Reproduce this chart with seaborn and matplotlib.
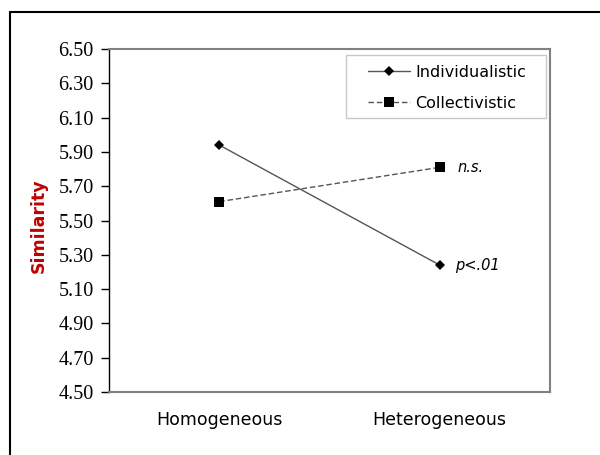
import matplotlib
matplotlib.use("Agg")
import matplotlib.pyplot as plt
from matplotlib.lines import Line2D
from matplotlib.patches import Rectangle
import seaborn as sns
import pandas as pd

# ---- data ----
conditions = ["Homogeneous", "Heterogeneous"]
individualistic = [5.94, 5.24]
collectivistic = [5.61, 5.81]
series_names = ["Individualistic", "Collectivistic"]
y_ticks = [4.50, 4.70, 4.90, 5.10, 5.30, 5.50, 5.70, 5.90, 6.10, 6.30, 6.50]
notes = ["p<.01", "n.s."]

df = pd.DataFrame({
    "condition": conditions * 2,
    "similarity": individualistic + collectivistic,
    "culture": [series_names[0]] * 2 + [series_names[1]] * 2,
})

sns.set_style("white")
plt.rcParams["font.family"] = ["DejaVu Sans"]
plt.rcParams["text.color"] = "black"

fig = plt.figure(figsize=(6, 4.55), dpi=100)
ax = fig.add_axes([109 / 600, 63 / 455, 441 / 600, 343 / 455])

sns.pointplot(data=df, x="condition", y="similarity", hue="culture",
              order=conditions, hue_order=series_names,
              markers=["D", "s"], linestyles=["-", "--"],
              palette=["black", "black"], errorbar=None, ax=ax)

# gray connecting lines with black markers
for ln, ms in zip(ax.lines[:2], [5, 6.5]):
    ln.set_color("#555555")
    ln.set_linewidth(1)
    ln.set_markerfacecolor("black")
    ln.set_markeredgecolor("black")
    ln.set_markeredgewidth(0)
    ln.set_markersize(ms)
ax.lines[1].set_dashes((4, 2))

ax.set_xlim(-0.5, 1.5)
ax.set_ylim(4.5, 6.5)
ax.set_yticks(y_ticks)
ax.set_yticklabels([f"{v:.2f}" for v in y_ticks], family="Liberation Serif", fontsize=14.5)
ax.set_xticks(range(len(conditions)))
ax.set_xticklabels(conditions, fontsize=12.5)
ax.tick_params(axis="y", direction="out", length=6, width=1, color="black", left=True,
               pad=5, labelcolor="black")
ax.tick_params(axis="x", length=0, pad=14, labelcolor="black")
ax.set_xlabel("")
ax.set_ylabel("Similarity", fontsize=12.5, fontweight="bold", color="#c00000")
ax.yaxis.set_label_coords(-0.138, 0.485)

for side in ["top", "right", "bottom"]:
    ax.spines[side].set_color("#808080")
    ax.spines[side].set_linewidth(1.5)
ax.spines["left"].set_color("black")
ax.spines["left"].set_linewidth(1)

# significance notes next to the Heterogeneous points
ax.annotate(notes[0], (1, individualistic[1]), xytext=(11, 0), textcoords="offset points",
            va="center", ha="left", fontsize=10.5, style="italic")
ax.annotate(notes[1], (1, collectivistic[1]), xytext=(13, 0), textcoords="offset points",
            va="center", ha="left", fontsize=10.5, style="italic")

# legend entries without their own frame, box drawn separately
leg = ax.legend(handles=ax.lines[:2], labels=series_names, loc="upper left",
                bbox_to_anchor=(368 / 600, 1 - 65 / 455), bbox_transform=fig.transFigure,
                fontsize=11.5, frameon=False, handlelength=2.6, handletextpad=0.35,
                borderpad=0, labelspacing=1.0, borderaxespad=0)
for t in leg.get_texts():
    t.set_color("black")
fig.add_artist(Rectangle((346 / 600, 1 - 118 / 455), 200 / 600, 63 / 455,
                         transform=fig.transFigure, fill=False,
                         edgecolor="#c8c8c8", linewidth=1))

# outer frame (top and left edges)
fig.add_artist(Line2D([10 / 600, 1], [1 - 12 / 455, 1 - 12 / 455], transform=fig.transFigure,
                      color="black", linewidth=1.5))
fig.add_artist(Line2D([10 / 600, 10 / 600], [0, 1 - 12 / 455], transform=fig.transFigure,
                      color="black", linewidth=1.5))

fig.savefig("out.png", dpi=100)
